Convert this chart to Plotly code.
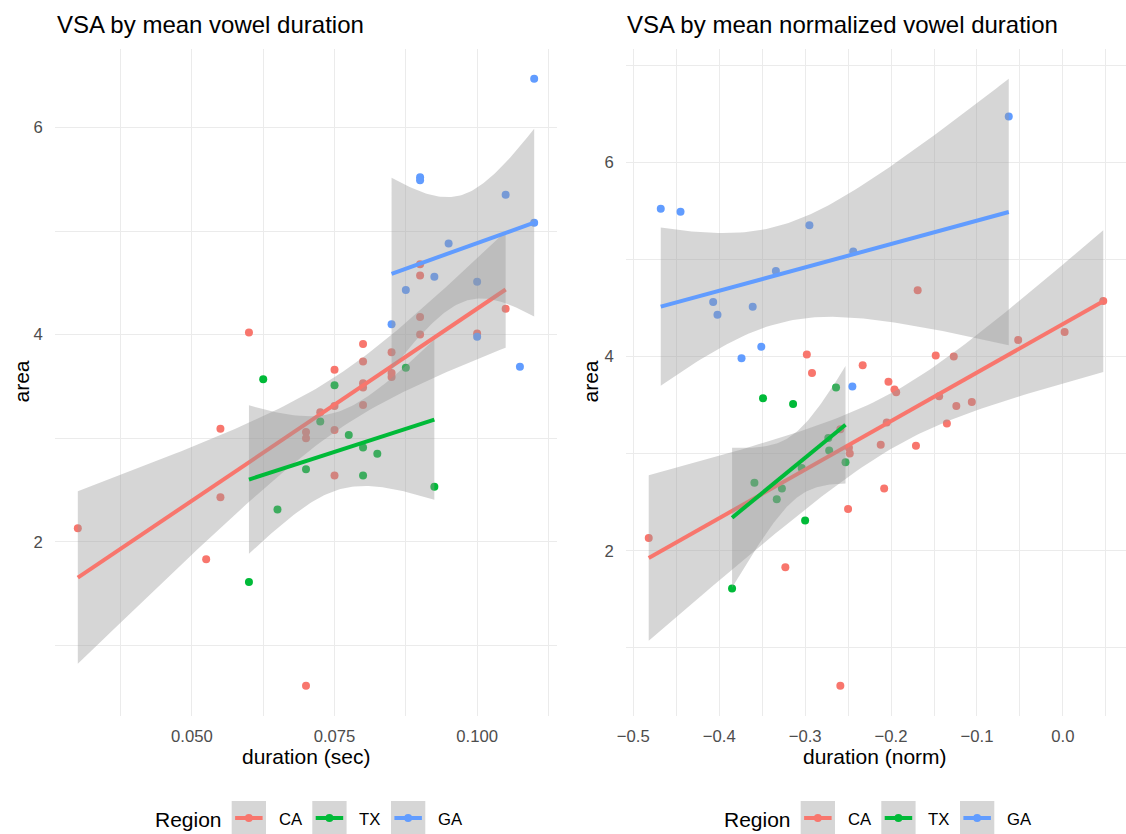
import numpy as np
import plotly.graph_objects as go

# ---------------- data ----------------
regions = ["CA", "TX", "GA"]
colors = {"CA": "#F8766D", "TX": "#00BA38", "GA": "#619CFF"}

ca_area = [2.13, 1.83, 3.09, 2.43, 0.61, 4.02, 3.66, 3.91, 3.74, 3.83, 3.63, 3.59, 3.53, 3.49,
           4.68, 4.57, 4.17, 4.00, 4.01, 4.25, 3.25, 3.31, 3.08, 3.06, 3.00, 2.64, 3.32]
ca_dur_sec = [0.030, 0.0525, 0.055, 0.055, 0.070, 0.060, 0.075, 0.080, 0.080, 0.085, 0.085, 0.085, 0.080, 0.080,
              0.090, 0.090, 0.090, 0.090, 0.100, 0.105, 0.0725, 0.075, 0.075, 0.070, 0.070, 0.075, 0.080]
ca_dur_norm = [-0.482, -0.323, -0.212, -0.250, -0.259, -0.298, -0.196, -0.233, -0.203, -0.292, -0.194, -0.144, -0.106, -0.124,
               -0.169, 0.047, -0.052, -0.127, -0.148, 0.002, -0.259, -0.135, -0.171, -0.249, -0.248, -0.208, -0.205]

tx_area = [3.57, 3.51, 3.68, 3.16, 3.03, 2.91, 2.85, 2.70, 2.64, 2.31, 2.53, 1.61]
tx_dur_sec = [0.0625, 0.075, 0.0875, 0.0725, 0.0775, 0.080, 0.0825, 0.070, 0.080, 0.065, 0.0925, 0.060]
tx_dur_norm = [-0.349, -0.314, -0.264, -0.273, -0.272, -0.253, -0.304, -0.359, -0.327, -0.300, -0.333, -0.385]

ga_area = [6.47, 5.52, 5.49, 5.35, 5.08, 4.88, 4.56, 4.43, 4.51, 4.10, 3.98, 3.69]
ga_dur_sec = [0.110, 0.090, 0.090, 0.105, 0.110, 0.095, 0.0925, 0.0875, 0.100, 0.085, 0.100, 0.1075]
ga_dur_norm = [-0.063, -0.468, -0.445, -0.295, -0.244, -0.334, -0.407, -0.402, -0.361, -0.351, -0.374, -0.245]

panel_titles = ["VSA by mean vowel duration", "VSA by mean normalized vowel duration"]
x_titles = ["duration (sec)", "duration (norm)"]
y_title = "area"
legend_title = "Region"

data = {
    "CA": (ca_area, ca_dur_sec, ca_dur_norm),
    "TX": (tx_area, tx_dur_sec, tx_dur_norm),
    "GA": (ga_area, ga_dur_sec, ga_dur_norm),
}

# t quantiles (0.975) for the 95% confidence band
T975 = {10: 2.228139, 25: 2.059539}


def lm_band(x, y, n_grid=80):
    x = np.asarray(x, float)
    y = np.asarray(y, float)
    n = len(x)
    b1, b0 = np.polyfit(x, y, 1)
    resid = y - (b0 + b1 * x)
    s = np.sqrt(np.sum(resid ** 2) / (n - 2))
    xbar = x.mean()
    sxx = np.sum((x - xbar) ** 2)
    g = np.linspace(x.min(), x.max(), n_grid)
    fit = b0 + b1 * g
    se = s * np.sqrt(1.0 / n + (g - xbar) ** 2 / sxx)
    t = T975.get(n - 2, 2.0)
    return g, fit, fit - t * se, fit + t * se


W, H = 1126, 834
FONT = "Liberation Sans, Arial, Helvetica, sans-serif"
GRID = "#EBEBEB"
RIBBON = "rgba(153,153,153,0.4)"


def px(x):
    return x / W


def py(y):
    return 1 - y / H


fig = go.Figure()

panels = [
    dict(xa="x", ya="y"),
    dict(xa="x2", ya="y2"),
]
top, bottom = 48.5, 716

for p_i, p in enumerate(panels):
    ranges_x, ranges_y = [], []
    for r in regions:
        area, sec, norm = data[r]
        xs = sec if p_i == 0 else norm
        fig.add_trace(go.Scatter(
            x=xs, y=area, mode="markers", xaxis=p["xa"], yaxis=p["ya"],
            marker=dict(color=colors[r], size=8, line=dict(width=0)),
            showlegend=False, hoverinfo="x+y", name=r))
        ranges_x += list(xs)
        ranges_y += list(area)
    for r in regions:
        area, sec, norm = data[r]
        xs = sec if p_i == 0 else norm
        g, fit, lo, hi = lm_band(xs, area)
        fig.add_trace(go.Scatter(
            x=np.concatenate([g, g[::-1]]), y=np.concatenate([hi, lo[::-1]]),
            mode="lines", fill="toself", fillcolor=RIBBON, line=dict(width=0),
            xaxis=p["xa"], yaxis=p["ya"], showlegend=False, hoverinfo="skip"))
        fig.add_trace(go.Scatter(
            x=g, y=fit, mode="lines", line=dict(color=colors[r], width=4),
            xaxis=p["xa"], yaxis=p["ya"], showlegend=False, hoverinfo="skip"))
        ranges_y += list(lo) + list(hi)
    xmin, xmax = min(ranges_x), max(ranges_x)
    ymin, ymax = min(ranges_y), max(ranges_y)
    ex = (xmax - xmin) * 0.05
    ey = (ymax - ymin) * 0.05
    p["xr"] = [xmin - ex, xmax + ex]
    p["yr"] = [ymin - ey, ymax + ey]

tick_font = dict(family=FONT, size=16.7, color="#4D4D4D")

xaxis_common = dict(showline=False, zeroline=False, showgrid=True, gridcolor=GRID, gridwidth=1.4,
                    ticks="outside", ticklen=5, tickcolor="rgba(0,0,0,0)", tickfont=tick_font,
                    automargin=False)
yaxis_common = dict(showline=False, zeroline=False, showgrid=True, gridcolor=GRID, gridwidth=1.4,
                    ticks="outside", ticklen=8, tickcolor="rgba(0,0,0,0)", tickfont=tick_font,
                    tickmode="linear", tick0=2, dtick=2, automargin=False,
                    minor=dict(showgrid=True, gridcolor=GRID, gridwidth=1.2, dtick=1, tick0=1, ticks=""))

fig.update_layout(
    width=W, height=H, margin=dict(l=0, r=0, t=0, b=0, pad=0), autosize=False,
    paper_bgcolor="white", plot_bgcolor="white", showlegend=False,
    font=dict(family=FONT, color="black"),
    xaxis=dict(domain=[px(55), px(557)], range=panels[0]["xr"], anchor="y",
               tickmode="linear", tick0=0.05, dtick=0.025, tickformat=".3f",
               minor=dict(showgrid=True, gridcolor=GRID, gridwidth=1.2, dtick=0.0125, tick0=0.0375, ticks=""),
               **xaxis_common),
    yaxis=dict(domain=[py(bottom), py(top)], range=panels[0]["yr"], anchor="x", **yaxis_common),
    xaxis2=dict(domain=[px(626), 1.0], range=panels[1]["xr"], anchor="y2",
                tickmode="linear", tick0=-0.5, dtick=0.1, tickformat=".1f",
                minor=dict(showgrid=True, gridcolor=GRID, gridwidth=1.2, dtick=0.05, tick0=-0.45, ticks=""),
                **xaxis_common),
    yaxis2=dict(domain=[py(bottom), py(top)], range=panels[1]["yr"], anchor="x2", **yaxis_common),
)

annotations = []
shapes = []
offset = 569  # horizontal offset between the two panels
for i in range(2):
    dx = offset * i
    annotations.append(dict(text=panel_titles[i], x=px(55 + dx + (1 if i else 0)), y=py(24), xref="paper", yref="paper",
                            xanchor="left", yanchor="middle", showarrow=False,
                            font=dict(family=FONT, size=24, color="black")))
    annotations.append(dict(text=x_titles[i], x=px(306 + dx), y=py(756), xref="paper", yref="paper",
                            xanchor="center", yanchor="middle", showarrow=False,
                            font=dict(family=FONT, size=21, color="black")))
    annotations.append(dict(text=y_title, x=px(20.5 + dx), y=py(382), xref="paper", yref="paper",
                            xanchor="center", yanchor="middle", showarrow=False, textangle=-90,
                            font=dict(family=FONT, size=21, color="black")))
    annotations.append(dict(text=legend_title, x=px(152.7 + dx), y=py(819), xref="paper", yref="paper",
                            xanchor="left", yanchor="middle", showarrow=False,
                            font=dict(family=FONT, size=21, color="black")))
    key_x = [231.7, 312.3, 391.0]
    lab_x = [276.7, 357.3, 436.0]
    for k, r in enumerate(regions):
        kx0 = key_x[k] + dx
        kx1 = kx0 + 34.3
        shapes.append(dict(type="rect", xref="paper", yref="paper",
                           x0=px(kx0), x1=px(kx1), y0=py(835), y1=py(801),
                           fillcolor=RIBBON, line=dict(width=0), layer="above"))
        shapes.append(dict(type="line", xref="paper", yref="paper",
                           x0=px(kx0 + 3.4), x1=px(kx1 - 3.4), y0=py(818), y1=py(818),
                           line=dict(color=colors[r], width=4), layer="above"))
        cx = (kx0 + kx1) / 2
        shapes.append(dict(type="circle", xref="paper", yref="paper",
                           x0=px(cx - 4), x1=px(cx + 4), y0=py(822), y1=py(814),
                           fillcolor=colors[r], line=dict(width=0), layer="above"))
        annotations.append(dict(text=r, x=px(lab_x[k] + dx), y=py(819), xref="paper", yref="paper",
                                xanchor="left", yanchor="middle", showarrow=False,
                                font=dict(family=FONT, size=16.7, color="black")))

fig.update_layout(annotations=annotations, shapes=shapes)
fig.write_html("out.html", config={"displayModeBar": False},
               post_script="document.body.style.margin='0px';document.body.style.overflow='hidden';")
